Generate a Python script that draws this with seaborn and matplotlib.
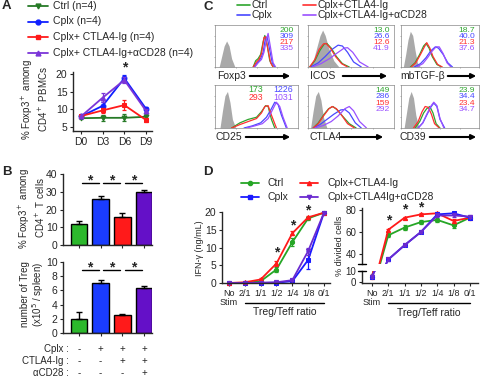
import numpy as np
import seaborn as sns
import matplotlib
matplotlib.use("Agg")
import matplotlib.pyplot as plt

# ---------------- data ----------------
# A: % Foxp3+ among CD4+ PBMCs
days = ["D0", "D3", "D6", "D9"]
a_ctrl = [7.5, 7.6, 7.6, 7.9]
a_ctrl_err = [0.3, 0.8, 1.0, 0.8]
a_cplx = [8.0, 11.0, 18.8, 10.2]
a_cplx_err = [0.3, 1.0, 0.8, 0.5]
a_ctla = [8.1, 9.7, 11.2, 7.0]
a_ctla_err = [0.3, 0.8, 1.5, 0.5]
a_cd28 = [8.0, 13.3, 18.3, 9.6]
a_cd28_err = [0.3, 1.3, 0.8, 0.5]

# B: bars
groups = ["Ctrl", "Cplx", "Cplx+CTLA4-Ig", "Cplx+CTLA4-Ig+aCD28"]
b_pct = [11.8, 25.8, 15.8, 30.0]
b_pct_err = [1.5, 1.8, 2.5, 1.0]
b_num = [2.0, 7.1, 2.5, 6.3]
b_num_err = [1.0, 0.3, 0.15, 0.3]
tbl_rows = ["Cplx :", "CTLA4-Ig :", "\u03b1CD28 :"]
tbl_signs = [["-", "+", "+", "+"], ["-", "-", "+", "+"], ["-", "-", "-", "+"]]

hist_foxp3 = {
    "iso": ([0.05, 0.08, 0.11, 0.14, 0.17, 0.20, 0.24], [0, 0.25, 0.5, 0.62, 0.5, 0.2, 0]),
    "ctrl": ([0.46, 0.49, 0.52, 0.55, 0.58, 0.60, 0.63, 0.66, 0.70], [0, 0.15, 0.2, 0.3, 0.6, 0.75, 0.5, 0.15, 0]),
    "cplx": ([0.47, 0.51, 0.55, 0.58, 0.61, 0.63, 0.66, 0.69, 0.72], [0, 0.1, 0.2, 0.35, 0.72, 0.7, 0.4, 0.1, 0]),
    "ctla": ([0.46, 0.50, 0.53, 0.56, 0.59, 0.61, 0.64, 0.67, 0.70], [0, 0.12, 0.18, 0.32, 0.7, 0.72, 0.4, 0.1, 0]),
    "cd28": ([0.48, 0.52, 0.56, 0.59, 0.62, 0.64, 0.67, 0.70, 0.73], [0, 0.1, 0.18, 0.35, 0.65, 0.8, 0.45, 0.1, 0]),
}
hist_icos = {
    "iso": ([0.02, 0.06, 0.10, 0.14, 0.17, 0.20, 0.24, 0.30, 0.36], [0, 0.15, 0.45, 0.75, 0.88, 0.75, 0.45, 0.15, 0]),
    "ctrl": ([0.02, 0.08, 0.14, 0.19, 0.22, 0.27, 0.33, 0.40, 0.48], [0, 0.15, 0.4, 0.55, 0.56, 0.45, 0.25, 0.08, 0]),
    "cplx": ([0.03, 0.12, 0.20, 0.28, 0.35, 0.40, 0.46, 0.53, 0.62], [0, 0.1, 0.25, 0.42, 0.52, 0.5, 0.35, 0.12, 0]),
    "ctla": ([0.02, 0.08, 0.13, 0.18, 0.21, 0.26, 0.32, 0.39, 0.46], [0, 0.18, 0.42, 0.55, 0.56, 0.45, 0.25, 0.08, 0]),
    "cd28": ([0.05, 0.15, 0.25, 0.33, 0.42, 0.46, 0.52, 0.60, 0.70], [0, 0.08, 0.2, 0.32, 0.45, 0.46, 0.35, 0.12, 0]),
}
hist_tgfb = {
    "iso": ([0.03, 0.06, 0.09, 0.12, 0.15, 0.18, 0.21, 0.25], [0, 0.3, 0.65, 0.85, 0.75, 0.4, 0.1, 0]),
    "ctrl": ([0.12, 0.18, 0.24, 0.29, 0.32, 0.36, 0.40, 0.46, 0.52], [0, 0.1, 0.3, 0.5, 0.56, 0.45, 0.25, 0.06, 0]),
    "cplx": ([0.17, 0.25, 0.32, 0.38, 0.44, 0.48, 0.54, 0.60, 0.66], [0, 0.08, 0.22, 0.38, 0.48, 0.45, 0.3, 0.1, 0]),
    "ctla": ([0.13, 0.19, 0.25, 0.30, 0.33, 0.37, 0.41, 0.47, 0.53], [0, 0.1, 0.3, 0.48, 0.58, 0.45, 0.25, 0.06, 0]),
    "cd28": ([0.20, 0.28, 0.34, 0.40, 0.45, 0.49, 0.54, 0.59, 0.64], [0, 0.08, 0.22, 0.38, 0.48, 0.48, 0.32, 0.1, 0]),
}
hist_cd25 = {
    "iso": ([0.06, 0.09, 0.12, 0.15, 0.18, 0.21, 0.25], [0, 0.4, 0.75, 0.85, 0.6, 0.2, 0]),
    "ctrl": ([0.20, 0.30, 0.40, 0.50, 0.56, 0.61, 0.64, 0.68, 0.72], [0, 0.12, 0.2, 0.25, 0.38, 0.52, 0.5, 0.2, 0]),
    "cplx": ([0.35, 0.45, 0.55, 0.62, 0.68, 0.72, 0.76, 0.80, 0.86], [0, 0.05, 0.12, 0.25, 0.45, 0.6, 0.55, 0.3, 0]),
    "ctla": ([0.20, 0.30, 0.40, 0.50, 0.56, 0.60, 0.64, 0.68, 0.74], [0, 0.08, 0.15, 0.22, 0.35, 0.5, 0.52, 0.3, 0]),
    "cd28": ([0.38, 0.48, 0.57, 0.64, 0.70, 0.74, 0.78, 0.82, 0.87], [0, 0.05, 0.1, 0.22, 0.45, 0.6, 0.5, 0.25, 0]),
}
hist_ctla4 = {
    "iso": ([0.03, 0.06, 0.09, 0.12, 0.15, 0.18, 0.22], [0, 0.4, 0.75, 0.85, 0.65, 0.25, 0]),
    "ctrl": ([0.06, 0.12, 0.18, 0.24, 0.29, 0.34, 0.40, 0.48, 0.56], [0, 0.12, 0.3, 0.45, 0.5, 0.42, 0.28, 0.1, 0]),
    "cplx": ([0.06, 0.14, 0.22, 0.30, 0.38, 0.43, 0.48, 0.55, 0.62], [0, 0.08, 0.2, 0.32, 0.42, 0.43, 0.35, 0.12, 0]),
    "ctla": ([0.06, 0.12, 0.18, 0.24, 0.28, 0.33, 0.39, 0.46, 0.54], [0, 0.1, 0.28, 0.44, 0.5, 0.45, 0.3, 0.1, 0]),
    "cd28": ([0.08, 0.18, 0.27, 0.35, 0.43, 0.48, 0.53, 0.60, 0.68], [0, 0.06, 0.15, 0.28, 0.45, 0.5, 0.4, 0.15, 0]),
}
hist_cd39 = {
    "iso": ([0.04, 0.07, 0.10, 0.13, 0.16, 0.19, 0.23], [0, 0.35, 0.7, 0.85, 0.7, 0.3, 0]),
    "ctrl": ([0.18, 0.24, 0.29, 0.33, 0.37, 0.41, 0.45, 0.50], [0, 0.15, 0.35, 0.45, 0.5, 0.35, 0.1, 0]),
    "cplx": ([0.22, 0.28, 0.33, 0.38, 0.42, 0.46, 0.50, 0.56], [0, 0.12, 0.3, 0.48, 0.58, 0.5, 0.2, 0]),
    "ctla": ([0.16, 0.22, 0.27, 0.31, 0.35, 0.39, 0.43, 0.49], [0, 0.15, 0.38, 0.5, 0.48, 0.32, 0.1, 0]),
    "cd28": ([0.22, 0.28, 0.33, 0.38, 0.42, 0.46, 0.50, 0.55], [0, 0.12, 0.32, 0.5, 0.6, 0.52, 0.22, 0]),
}
c_markers = ["Foxp3", "ICOS", "mbTGF-\u03b2", "CD25", "CTLA4", "CD39"]
c_hists = [hist_foxp3, hist_icos, hist_tgfb, hist_cd25, hist_ctla4, hist_cd39]
c_mfi = [["200", "309", "217", "335"], ["13.0", "26.6", "12.6", "41.9"],
         ["18.7", "40.0", "21.3", "37.6"], ["173", "1226", "293", "1031"],
         ["149", "286", "159", "292"], ["23.9", "34.4", "23.4", "34.7"]]

# D: suppression assay
ratios = ["No\nStim", "2/1", "1/1", "1/2", "1/4", "1/8", "0/1"]
d_ifn_ctrl = [0, 0, 0.5, 3.8, 11.5, 18.2, 19.8]
d_ifn_ctrl_err = [0, 0, 0.2, 0.8, 1.2, 0.5, 0.3]
d_ifn_cplx = [0, 0, 0, 0.1, 0.5, 6.5, 19.8]
d_ifn_cplx_err = [0, 0, 0, 0.1, 0.2, 2.5, 0.3]
d_ifn_ctla = [0, 0.2, 1.0, 5.5, 14.0, 18.5, 19.8]
d_ifn_ctla_err = [0, 0.1, 0.3, 0.8, 0.6, 0.5, 0.3]
d_ifn_cd28 = [0, 0, 0.1, 0.2, 0.8, 9.0, 19.8]
d_ifn_cd28_err = [0, 0, 0, 0.1, 0.2, 1.0, 0.3]
d_div_ctrl = [5, 57, 64, 69, 71, 66, 73]
d_div_ctrl_err = [1.5, 1.5, 2, 2, 2, 2, 1]
d_div_cplx = [5, 35, 48, 60, 76, 77, 73]
d_div_cplx_err = [1.5, 1, 1, 1, 1, 1.5, 1]
d_div_ctla = [5, 62, 73, 76, 77, 70, 73]
d_div_ctla_err = [1.5, 1, 1, 1, 1.5, 2, 1]
d_div_cd28 = [5, 35, 48, 60, 75, 75, 74]
d_div_cd28_err = [1.5, 1, 1, 1, 1, 1, 1]

# ---------------- style ----------------
sns.set_style("ticks")
plt.rcParams['font.family'] = ['Liberation Sans', 'DejaVu Sans']
plt.rcParams['font.size'] = 7
plt.rcParams['axes.linewidth'] = 1.0
plt.rcParams['xtick.major.size'] = 2.5
plt.rcParams['ytick.major.size'] = 2.5
plt.rcParams['xtick.major.pad'] = 1.5
plt.rcParams['ytick.major.pad'] = 1.5
plt.rcParams['xtick.labelsize'] = 7
plt.rcParams['ytick.labelsize'] = 7.5

W, H = 480, 380
fig = plt.figure(figsize=(4.8, 3.8), dpi=100)


def box(l, t, r, b):
    return fig.add_axes([l / W, 1 - b / H, (r - l) / W, (b - t) / H])


ov = fig.add_axes([0, 0, 1, 1], zorder=10)
ov.set_xlim(0, W)
ov.set_ylim(H, 0)
ov.axis("off")

colA = ["#267a26", "#1020ff", "#ff1a1a", "#7b35d8"]
colB = ["#2cb82c", "#1a3cff", "#ff1a1a", "#6410c8"]
colC = {"ctrl": "#2ea52e", "cplx": "#4848ff", "ctla": "#ff3030", "cd28": "#9a50ff"}
colD = ["#26a626", "#1a1aff", "#ff1a1a", "#6a2ad0"]


def series(ax, vals, err, color, marker, ms=3.5, clip=False):
    x = np.arange(len(vals))
    sns.lineplot(x=x, y=vals, ax=ax, color=color, marker=marker, markersize=ms,
                 markeredgecolor=color, linewidth=1.3, clip_on=clip)
    ax.errorbar(x, vals, yerr=err, fmt="none", ecolor=color, elinewidth=0.9,
                capsize=1.5, capthick=0.9, clip_on=clip)


# ---------------- panel A ----------------
axA = box(73, 72, 152, 131)
series(axA, a_ctrl, a_ctrl_err, colA[0], "v")
series(axA, a_cplx, a_cplx_err, colA[1], "o")
series(axA, a_ctla, a_ctla_err, colA[2], "s")
series(axA, a_cd28, a_cd28_err, colA[3], "^")
axA.set_xlim(-0.37, 3.28)
axA.set_ylim(3.87, 20.57)
axA.set_yticks([5, 10, 15, 20])
axA.set_xticks(range(len(days)))
axA.set_xticklabels(days, fontsize=7.5)
axA.text(2, 21.8, "*", ha="center", va="center", fontsize=10, fontweight="bold")
sns.despine(ax=axA)
ov.text(35, 99, "% Foxp3$^+$ among\nCD4$^+$ PBMCs", rotation=90, ha="center", va="center",
        fontsize=7, linespacing=1.1)

legA = ["Ctrl (n=4)", "Cplx (n=4)", "Cplx+ CTLA4-Ig (n=4)", "Cplx+ CTLA4-Ig+\u03b1CD28 (n=4)"]
for i, (lab, m) in enumerate(zip(legA, ["v", "o", "s", "^"])):
    y = 6 + i * 15.5
    ov.plot([28, 48], [y, y], color=colA[i], lw=1.3)
    ov.plot([38], [y], marker=m, color=colA[i], ms=3.5)
    ov.text(53, y, lab, ha="left", va="center", fontsize=7.5)

# ---------------- panel B ----------------
def bars(ax, vals, err, ymax, sig_y, yt):
    sns.barplot(x=list(range(4)), y=vals, hue=list(range(4)), palette=colB, legend=False,
                ax=ax, width=0.77, edgecolor="black", linewidth=1.0, saturation=1)
    ax.errorbar(range(4), vals, yerr=[[0] * 4, err], fmt="none", ecolor="black",
                elinewidth=1.0, capsize=2, capthick=1.0)
    ax.set_xlim(-0.74, 3.37)
    ax.set_ylim(0, ymax)
    ax.set_yticks(yt)
    ax.set_xticks(range(4))
    ax.set_xticklabels([])
    for i in range(3):
        ax.plot([i + 0.12, i + 0.9], [sig_y, sig_y], color="black", lw=1.0, clip_on=False)
        ax.text(i + 0.51, sig_y + ymax * 0.035, "*", ha="center", va="center",
                fontsize=10, fontweight="bold")
    sns.despine(ax=ax)


axB1 = box(63, 174, 152, 245)
bars(axB1, b_pct, b_pct_err, 40, 35, [0, 10, 20, 30, 40])
axB2 = box(63, 262, 152, 333)
bars(axB2, b_num, b_num_err, 10, 8.9, [0, 2, 4, 6, 8, 10])
ov.text(32, 208, "% Foxp3$^+$ among\nCD4$^+$ T cells", rotation=90, ha="center", va="center",
        fontsize=7, linespacing=1.1)
ov.text(33, 294, "number of Treg\n(x10$^5$ / spleen)", rotation=90, ha="center", va="center",
        fontsize=7, linespacing=1.1)
for r, (lab, signs) in enumerate(zip(tbl_rows, tbl_signs)):
    y = 349 + r * 12
    ov.text(69, y, lab, ha="right", va="center", fontsize=7)
    for j, s in enumerate(signs):
        ov.text(79 + j * 21.67, y, s, ha="center", va="center", fontsize=7)

# ---------------- panel C ----------------
cols_x = [(215, 298), (308, 394), (401, 479)]
rows_y = [(25, 67), (85, 128)]
label_x = [217, 310, 400, 216, 309, 399]
arrow_x = [(247, 293), (340, 390), (445, 479), (243, 293), (338, 386), (427, 479)]
order = ["ctrl", "cplx", "ctla", "cd28"]
for k, (name, hist, mfi) in enumerate(zip(c_markers, c_hists, c_mfi)):
    r, c = divmod(k, 3)
    (l, rr), (t, b) = cols_x[c], rows_y[r]
    ax = box(l, t, rr, b)
    xs, ys = hist["iso"]
    ax.fill_between(xs, ys, color="#a9a9a9", lw=0, zorder=1)
    for key in order:
        hx, hy = hist[key]
        sns.lineplot(x=hx, y=hy, ax=ax, color=colC[key], lw=0.9, sort=False, zorder=2)
    ax.set_xlim(0, 1)
    ax.set_ylim(0, 1)
    ax.set_xticks([0, 0.25, 0.5, 0.75, 1])
    ax.set_yticks([0, 0.25, 0.5, 0.75, 1])
    ax.tick_params(length=1, width=0.4, labelleft=False, labelbottom=False, color="#777777")
    for sp in ax.spines.values():
        sp.set_linewidth(0.5)
        sp.set_color("#888888")
    if k == 3:
        cc = [colC["ctrl"], colC["cplx"], colC["ctla"], colC["cd28"]]
        for i, v in enumerate(mfi):
            ax.text(0.58 if i % 2 == 0 else 0.94, 0.89 - (i // 2) * 0.19, v, transform=ax.transAxes,
                    ha="right", va="center", fontsize=6.3, color=cc[i])
    else:
        for i, (v, key) in enumerate(zip(mfi, order)):
            ax.text(0.95, 0.87 - i * 0.145, v, transform=ax.transAxes, ha="right", va="center",
                    fontsize=6.1, color=colC[key])
    ly = b + 9
    ov.text(label_x[k], ly, name, ha="left", va="center", fontsize=7.5)
    ov.annotate("", xy=(arrow_x[k][1], ly), xytext=(arrow_x[k][0], ly),
                arrowprops=dict(arrowstyle="-|>", lw=1.5, color="black", mutation_scale=7))

legC = [("Ctrl", colC["ctrl"], 237, 5), ("Cplx", colC["cplx"], 237, 15),
        ("Cplx+CTLA4-Ig", colC["ctla"], 303, 5), ("Cplx+CTLA4-Ig+\u03b1CD28", colC["cd28"], 303, 15)]
for lab, cl, x0, y in legC:
    ov.plot([x0, x0 + 13], [y, y], color=cl, lw=1.2)
    ov.text(x0 + 15, y, lab, ha="left", va="center", fontsize=7.5)

# ---------------- panel D ----------------
axD1 = box(222, 212, 330, 283)
series(axD1, d_ifn_ctrl, d_ifn_ctrl_err, colD[0], "o", 3)
series(axD1, d_ifn_cplx, d_ifn_cplx_err, colD[1], "s", 3)
series(axD1, d_ifn_ctla, d_ifn_ctla_err, colD[2], "^", 3)
series(axD1, d_ifn_cd28, d_ifn_cd28_err, colD[3], "v", 3)
axD1.set_xlim(-0.44, 6.38)
axD1.set_ylim(0, 20)
axD1.set_yticks([0, 5, 10, 15, 20])
axD1.set_xticks(range(len(ratios)))
axD1.set_xticklabels(ratios, linespacing=1.0, fontsize=6.5)
for xi, yv in zip([3, 4, 5], [8.5, 16.1, 20.4]):
    axD1.text(xi, yv, "*", ha="center", va="center", fontsize=10, fontweight="bold")
sns.despine(ax=axD1)
ov.text(199, 248, "IFN-\u03b3 (ng/mL)", rotation=90, ha="center", va="center", fontsize=6.5)

axD2 = box(362, 208, 478, 264)
axD3 = box(362, 271, 478, 283)
for ax in (axD2, axD3):
    series(ax, d_div_ctrl, d_div_ctrl_err, colD[0], "o", 3, clip=True)
    series(ax, d_div_ctla, d_div_ctla_err, colD[2], "^", 3, clip=True)
    series(ax, d_div_cplx, d_div_cplx_err, colD[1], "s", 3, clip=True)
    series(ax, d_div_cd28, d_div_cd28_err, colD[3], "v", 3, clip=True)
    ax.set_xlim(-0.61, 6.5)
    ax.tick_params(axis="y", labelsize=7)
axD2.set_ylim(30.9, 81.8)
axD2.set_yticks([40, 60, 80])
axD2.set_xticks([])
sns.despine(ax=axD2, bottom=True)
axD3.set_ylim(-0.9, 10)
axD3.set_yticks([0, 10])
axD3.set_xticks(range(len(ratios)))
axD3.set_xticklabels(ratios, linespacing=1.0, fontsize=6.5)
sns.despine(ax=axD3)
for xi, yv in zip([1, 2, 3], [70.5, 80.5, 82]):
    axD2.text(xi, yv, "*", ha="center", va="center", fontsize=10, fontweight="bold", clip_on=False)
for yb in (264, 271):
    ov.plot([358, 366], [yb, yb], color="black", lw=1.0)
ov.text(340, 246, "% divided cells", rotation=90, ha="center", va="center", fontsize=6.5)

for ax, frac in ((axD1, -0.28), (axD3, -1.67)):
    tr = ax.get_xaxis_transform()
    ax.plot([1, 6], [frac, frac], color="black", lw=1.0, transform=tr, clip_on=False)
    ax.text(3.5, frac - (0.13 if ax is axD1 else 0.8), "Treg/Teff ratio", transform=tr,
            ha="center", va="center", fontsize=7.5)

legD = [("Ctrl", colD[0], "o", 241, 183), ("Cplx", colD[1], "s", 241, 197),
        ("Cplx+CTLA4-Ig", colD[2], "^", 300, 183), ("Cplx+CTLA4Ig+\u03b1CD28", colD[3], "v", 300, 197)]
for lab, cl, m, x0, y in legD:
    ov.plot([x0, x0 + 18], [y, y], color=cl, lw=1.3)
    ov.plot([x0 + 9], [y], marker=m, color=cl, ms=3)
    ov.text(x0 + 27, y, lab, ha="left", va="center", fontsize=7.5)

# panel letters
for lab, (x, y) in zip("ABCD", [(2, 6), (2, 172), (203, 7), (203, 172)]):
    ov.text(x, y, lab, ha="left", va="center", fontsize=9.5, fontweight="bold")

fig.savefig("out.png", dpi=100)
